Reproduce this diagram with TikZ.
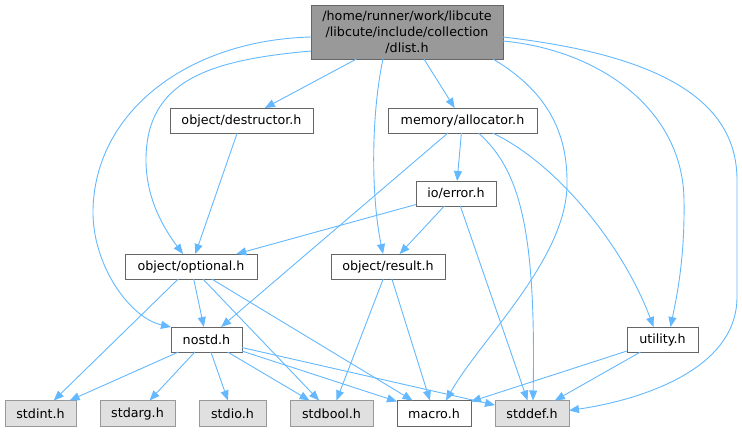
\documentclass[tikz,border=0pt]{standalone}
\usepackage{fontspec}
\setmainfont{DejaVu Sans}
\usetikzlibrary{arrows.meta, positioning}
\definecolor{edgeblue}{HTML}{63B8FF}
\definecolor{boxgray}{HTML}{666666}
\definecolor{sysgray}{HTML}{999999}
\definecolor{sysfill}{HTML}{E0E0E0}

\begin{document}
\begin{tikzpicture}[
        x=1pt, y=-1pt,
        node distance=24pt,
        font=\fontsize{12.7}{16}\selectfont,
        box/.style={rectangle, draw=boxgray, line width=1pt, fill=white, minimum height=25pt, inner sep=2pt, outer sep=0pt, align=center},
        sysbox/.style={box, draw=sysgray, fill=sysfill, minimum height=26pt},
        mainbox/.style={box, fill=sysgray, minimum width=192pt, minimum height=54pt},
        >={Triangle[length=10pt, width=8pt]},
        dep/.style={->, draw=edgeblue, line width=0.9pt}
    ]
    \useasboundingbox (0,0) rectangle (742,432);

    % File being documented
    \node[mainbox] (dlist) at (407,32) {/home/runner/work/libcute\\/libcute/include/collection\\/dlist.h};

    % Project headers
    \node[box, minimum width=143pt] (destructor) at (241.5,120.5) {object/destructor.h};
    \node[box, minimum width=149pt] (allocator) at (462.5,120.5) {memory/allocator.h};
    \node[box, minimum width=80pt] (error) at (456,193.5) {io/error.h};
    \node[box, minimum width=132pt] (optional) at (191,266.5) {object/optional.h};
    \node[box, minimum width=114pt] (result) at (388,266.5) {object/result.h};
    \node[box, minimum width=71pt] (nostd) at (206.5,339.5) {nostd.h};
    \node[box, minimum width=71pt] (utility) at (662.5,339.5) {utility.h};

    % Bottom row
    \node[sysbox, minimum width=71pt] (stdint) at (40.5,413.5) {stdint.h};
    \node[sysbox, minimum width=75pt, right=of stdint] (stdarg) {stdarg.h};
    \node[sysbox, minimum width=67pt, right=of stdarg] (stdio) {stdio.h};
    \node[sysbox, minimum width=83pt, right=of stdio] (stdbool) {stdbool.h};
    \node[box, minimum width=74pt, minimum height=26pt, right=of stdbool] (macro) {macro.h};
    \node[sysbox, minimum width=74pt, right=of macro] (stddef) {stddef.h};

    % dlist.h includes
    \draw[dep] (dlist) -- (destructor);
    \draw[dep] (dlist) -- (allocator);
    \draw[dep] ([yshift=-5pt]dlist.west) .. controls (190,40) and (95,110) .. (93,210) .. controls (92,265) and (130,318) .. (nostd.north west);
    \draw[dep] ([yshift=-19pt]dlist.west) .. controls (210,60) and (146,80) .. (146,160) .. controls (146,200) and (165,230) .. ([xshift=-8pt]optional.north);
    \draw[dep] ([xshift=-24pt]dlist.south) .. controls (372,110) and (370,190) .. ([xshift=-5pt]result.north);
    \draw[dep] ([xshift=86pt]dlist.south) .. controls (545,90) and (568,130) .. (567,185) .. controls (566,260) and (480,340) .. ([xshift=12pt]macro.north);
    \draw[dep] ([yshift=-9pt]dlist.east) .. controls (600,50) and (683,110) .. (684,200) .. controls (685,260) and (676,300) .. ([xshift=8pt]utility.north);
    \draw[dep] ([yshift=-5pt]dlist.east) .. controls (660,55) and (737,100) .. (737,180) -- (737,297) .. controls (737,370) and (640,400) .. ([yshift=3pt]stddef.east);

    % allocator
    \draw[dep] (allocator) -- (error);
    \draw[dep] (allocator) -- (nostd);
    \draw[dep] ([xshift=16pt]allocator.south) .. controls (520,170) and (536,230) .. ([xshift=1pt]stddef.north);
    \draw[dep] ([xshift=30pt]allocator.south) .. controls (560,165) and (625,250) .. ([xshift=-9pt]utility.north);

    % error
    \draw[dep] (error) -- (optional);
    \draw[dep] (error) -- (result);
    \draw[dep] (error) -- (stddef);

    % destructor, optional, result
    \draw[dep] (destructor) -- (optional);
    \draw[dep] (optional) -- (nostd);
    \draw[dep] (optional) -- (stdint);
    \draw[dep] (optional) -- (stdbool);
    \draw[dep] (optional) -- (macro);
    \draw[dep] (result) -- (stdbool);
    \draw[dep] (result) -- (macro);

    % nostd
    \draw[dep] (nostd) -- (stdint);
    \draw[dep] (nostd) -- (stdarg);
    \draw[dep] (nostd) -- (stdio);
    \draw[dep] (nostd) -- (stdbool);
    \draw[dep] (nostd) -- (macro);
    \draw[dep] (nostd) -- (stddef);

    % utility
    \draw[dep] (utility) -- (macro);
    \draw[dep] (utility) -- (stddef);

\end{tikzpicture}
\end{document}
